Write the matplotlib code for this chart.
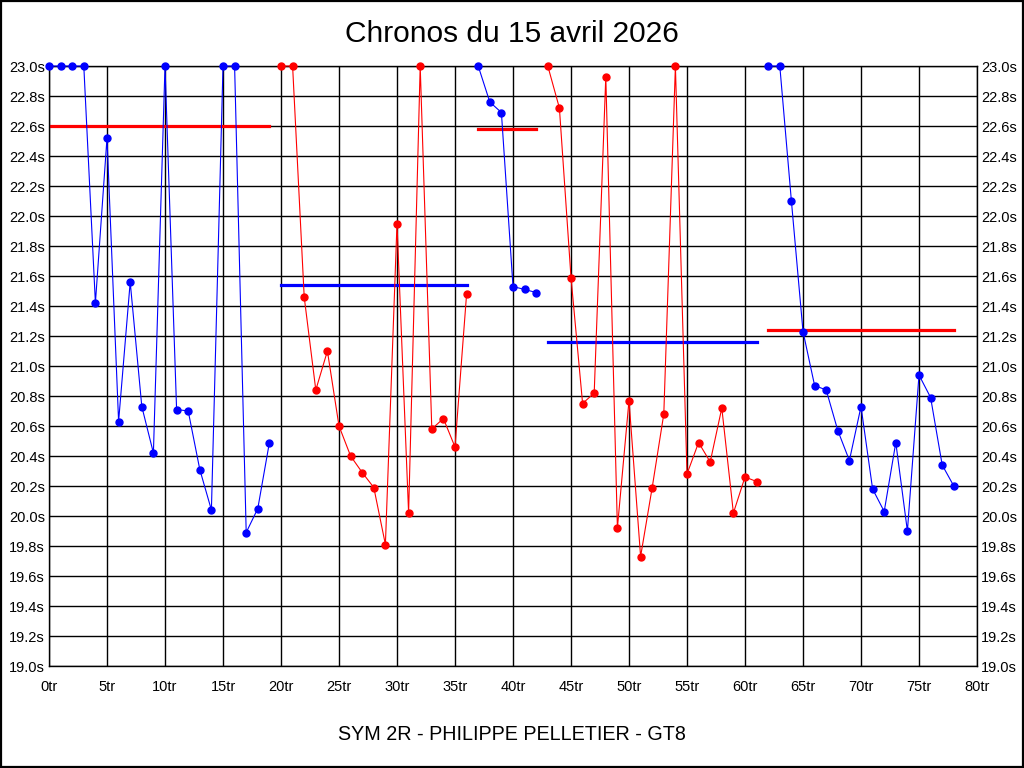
from matplotlib import pyplot as plt
from matplotlib.patches import Rectangle

# stints: lap numbers, lap times (clipped at 23.0s), colour of the stint
laps_1 = list(range(0, 20))
times_1 = [23.0, 23.0, 23.0, 23.0, 21.42, 22.52, 20.63, 21.56, 20.73, 20.42,
           23.0, 20.71, 20.70, 20.31, 20.04, 23.0, 23.0, 19.89, 20.05, 20.49]

laps_2 = list(range(20, 37))
times_2 = [23.0, 23.0, 21.46, 20.84, 21.10, 20.60, 20.40, 20.29, 20.19, 19.81,
           21.95, 20.02, 23.0, 20.58, 20.65, 20.46, 21.48]

laps_3 = list(range(37, 43))
times_3 = [23.0, 22.76, 22.69, 21.53, 21.51, 21.49]

laps_4 = list(range(43, 62))
times_4 = [23.0, 22.72, 21.59, 20.75, 20.82, 22.93, 19.92, 20.77, 19.73, 20.19,
           20.68, 23.0, 20.28, 20.49, 20.36, 20.72, 20.02, 20.26, 20.23]

laps_5 = list(range(62, 79))
times_5 = [23.0, 23.0, 22.10, 21.23, 20.87, 20.84, 20.57, 20.37, 20.73, 20.18,
           20.03, 20.49, 19.90, 20.94, 20.79, 20.34, 20.20]

stints = [(laps_1, times_1, 'blue'),
          (laps_2, times_2, 'red'),
          (laps_3, times_3, 'blue'),
          (laps_4, times_4, 'red'),
          (laps_5, times_5, 'blue')]

# mean line of each stint, drawn in the other colour
means = [22.60, 21.54, 22.58, 21.16, 21.24]

x_ticks = list(range(0, 81, 5))
y_ticks = [19.0 + 0.2 * i for i in range(21)]

plt.rcParams['font.family'] = ['Liberation Sans', 'DejaVu Sans']

fig = plt.figure(figsize=(10.24, 7.68), dpi=100)
ax = fig.add_axes([49 / 1024, 102 / 768, 928 / 1024, 600 / 768])

for (laps, times, color), mean in zip(stints, means):
    ax.plot(laps, times, '-', color=color, lw=0.8, marker='o', ms=5,
            mec=color, mfc=color, zorder=3, clip_on=False)
    other = 'red' if color == 'blue' else 'blue'
    ax.plot([laps[0], laps[-1]], [mean, mean], '-', color=other, lw=2.3, zorder=2)

ax.set_xlim(0, 80)
ax.set_ylim(19.0, 23.0)
ax.set_xticks(x_ticks)
ax.set_xticklabels([f'{t}tr' for t in x_ticks], fontsize=10.5)
ax.set_yticks(y_ticks)
ax.set_yticklabels([f'{t:.1f}s' for t in y_ticks], fontsize=10.5)
ax.tick_params(length=0, right=True, labelright=True, colors='black')
ax.tick_params(axis='x', pad=10)
ax.tick_params(axis='y', pad=3)
ax.grid(True, color='black', lw=1.0)
ax.set_axisbelow(True)
for s in ax.spines.values():
    s.set_color('black')
    s.set_linewidth(1.0)

fig.text(0.5, 1 - 34 / 768, 'Chronos du 15 avril 2026', ha='center', va='center', fontsize=21.5)
fig.text(0.5, 1 - 734 / 768, 'SYM 2R - PHILIPPE PELLETIER - GT8', ha='center', va='center',
         fontsize=14.2)

fig.patches.append(Rectangle((0.0008, 0.0008), 0.9984, 0.9984, transform=fig.transFigure,
                             fill=False, edgecolor='black', lw=1.6))

fig.savefig('out.png', dpi=100)
